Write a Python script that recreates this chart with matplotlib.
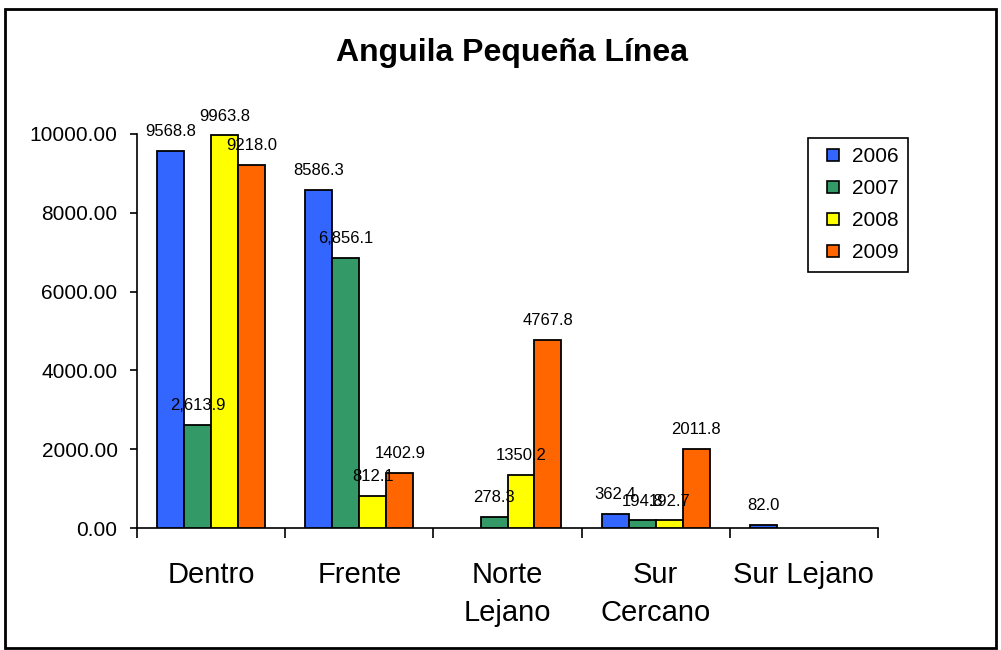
import matplotlib.pyplot as plt
import matplotlib.patches as mpatches
from matplotlib.lines import Line2D
import numpy as np

plt.rcParams['font.family'] = ['Liberation Sans', 'DejaVu Sans']

categories = ['Dentro', 'Frente', 'Norte\nLejano', 'Sur\nCercano', 'Sur Lejano']
years = ['2006', '2007', '2008', '2009']
v2006 = [9568.8, 8586.3, np.nan, 362.4, 82.0]
v2007 = [2613.9, 6856.1, 278.3, 194.8, np.nan]
v2008 = [9963.8, 812.1, 1350.2, 192.7, np.nan]
v2009 = [9218.0, 1402.9, 4767.8, 2011.8, np.nan]
series = [v2006, v2007, v2008, v2009]
label_fmt = ['{:.1f}', '{:,.1f}', '{:.1f}', '{:.1f}']
colors = ['#3366FF', '#339966', '#FFFF00', '#FF6600']

fig = plt.figure(figsize=(10.01, 6.5), dpi=100)
ax = fig.add_axes([137 / 1001, 1 - 528 / 650, 741 / 1001, 394 / 650])

x = np.arange(len(categories)) + 0.5
w = 0.182
for i, vals in enumerate(series):
    pos = x + (i - 1.5) * w
    vals = np.array(vals)
    ok = ~np.isnan(vals)
    ax.bar(pos[ok], vals[ok], width=w, color=colors[i], edgecolor='black',
           linewidth=1.3, label=years[i], zorder=3)
    for p, v in zip(pos[ok], vals[ok]):
        ax.annotate(label_fmt[i].format(v), (p, v), xytext=(0, 8.5),
                    textcoords='offset points', ha='center', va='bottom',
                    fontsize=12, zorder=5)

ax.set_xlim(0, len(categories))
ax.set_ylim(0, 10000)
ax.set_yticks(np.arange(0, 10001, 2000))
ax.set_yticklabels(['%.2f' % t for t in np.arange(0, 10001, 2000)], fontsize=15)
ax.tick_params(axis='y', length=5, width=1.2, pad=9)
ax.set_xticks(np.arange(0, len(categories) + 1))
ax.set_xticklabels([])
ax.tick_params(axis='x', which='major', length=7, width=1.2)
ax.set_xticks(x, minor=True)
ax.set_xticklabels(categories, minor=True, fontsize=21, linespacing=1.45)
ax.tick_params(axis='x', which='minor', length=0, pad=24)
for s in ['top', 'right']:
    ax.spines[s].set_visible(False)
for s in ['left', 'bottom']:
    ax.spines[s].set_linewidth(1.2)

fig.text(0.511, 1 - 53 / 650, 'Anguila Pequeña Línea', ha='center', va='center',
         fontsize=23, fontweight='bold')

handles = [Line2D([], [], linestyle='none', marker='s', markersize=8,
                  markerfacecolor=c, markeredgecolor='black',
                  markeredgewidth=1.2, label=y)
           for c, y in zip(colors, years)]
leg = fig.legend(handles=handles, loc='upper left',
                 bbox_to_anchor=(808 / 1001, 1 - 138 / 650), borderaxespad=0,
                 fontsize=15, fancybox=False, edgecolor='black',
                 handlelength=1.5, handletextpad=0.15, labelspacing=0.62,
                 borderpad=0.45, framealpha=1)
leg.get_frame().set_linewidth(1.2)

fig.patches.append(mpatches.Rectangle((5 / 1001, 2 / 650), 991 / 1001, 639 / 650,
                                      transform=fig.transFigure, fill=False,
                                      edgecolor='black', linewidth=2))

fig.savefig('out.png', dpi=100)
